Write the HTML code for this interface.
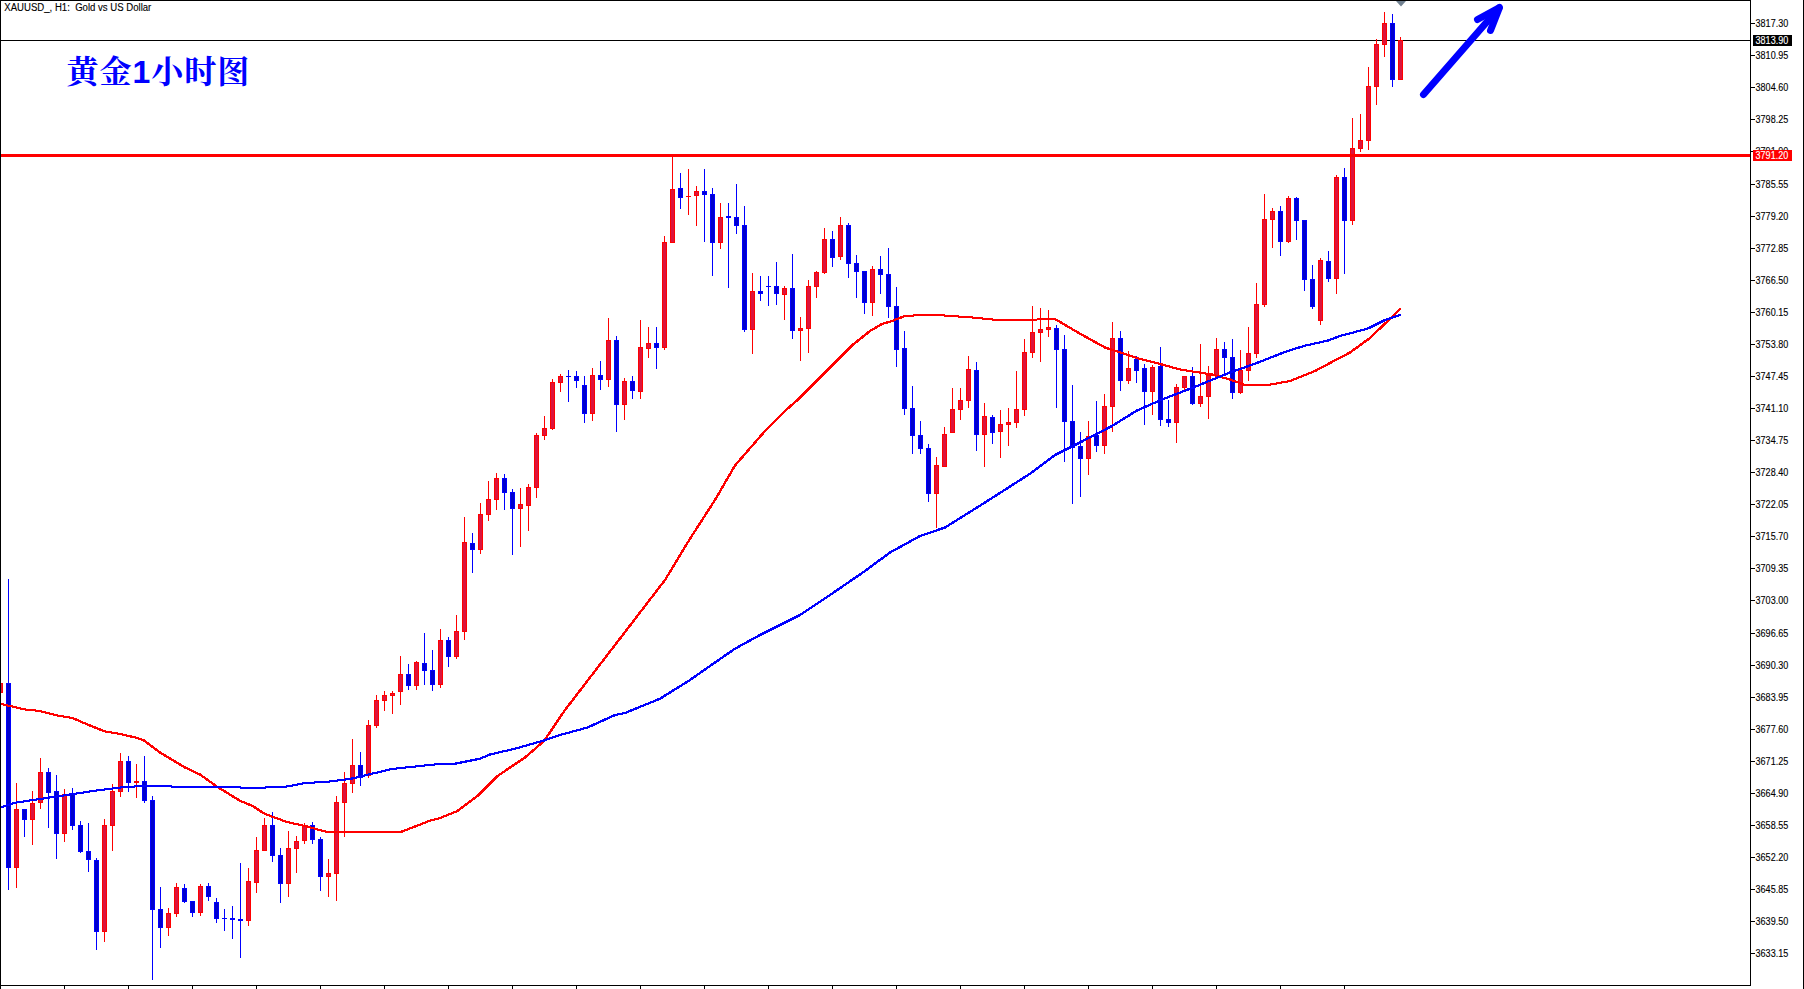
<!DOCTYPE html>
<html lang="zh"><head><meta charset="utf-8"><title>XAUUSD H1</title>
<style>html,body{margin:0;padding:0;background:#fff;overflow:hidden}svg{display:block}.ax{font-family:"Liberation Sans",sans-serif;font-size:10px;fill:#000;stroke:#000;stroke-width:0.12px}.ti{font-family:"Liberation Sans","Noto Serif CJK SC",serif;font-weight:700;font-size:32px;letter-spacing:1px;fill:#0000ff}</style></head><body>
<svg width="1804" height="989" viewBox="0 0 1804 989">
<rect x="0" y="0" width="1804" height="989" fill="#fff"/>
<g shape-rendering="crispEdges">
<rect x="0" y="40" width="1750" height="1" fill="#000"/>
<path fill="#ff0000" d="M0 683h1v10h-1zM16 783h1v105h-1zM32 791h1v54h-1zM40 758h1v51h-1zM64 789h1v53h-1zM104 819h1v123h-1zM112 784h1v67h-1zM120 753h1v44h-1zM136 764h1v34h-1zM168 908h1v28h-1zM176 883h1v34h-1zM200 884h1v32h-1zM248 868h1v58h-1zM256 837h1v56h-1zM264 818h1v33h-1zM288 831h1v66h-1zM296 836h1v37h-1zM304 823h1v21h-1zM328 859h1v38h-1zM336 796h1v105h-1zM344 772h1v65h-1zM352 739h1v54h-1zM368 720h1v58h-1zM376 695h1v33h-1zM384 691h1v20h-1zM392 691h1v23h-1zM400 656h1v49h-1zM416 661h1v29h-1zM440 629h1v59h-1zM456 615h1v44h-1zM464 517h1v123h-1zM480 503h1v51h-1zM488 481h1v40h-1zM496 473h1v37h-1zM520 488h1v59h-1zM528 484h1v47h-1zM536 433h1v65h-1zM544 416h1v24h-1zM552 379h1v51h-1zM560 374h1v18h-1zM592 368h1v53h-1zM608 318h1v69h-1zM624 378h1v42h-1zM640 320h1v79h-1zM648 327h1v31h-1zM664 236h1v114h-1zM672 157h1v86h-1zM688 169h1v46h-1zM696 186h1v40h-1zM720 203h1v46h-1zM752 273h1v81h-1zM784 286h1v34h-1zM800 317h1v44h-1zM808 280h1v73h-1zM816 271h1v27h-1zM824 228h1v46h-1zM840 217h1v43h-1zM872 266h1v50h-1zM936 457h1v71h-1zM944 427h1v40h-1zM952 388h1v45h-1zM960 388h1v32h-1zM968 356h1v52h-1zM984 403h1v64h-1zM1000 410h1v48h-1zM1008 408h1v38h-1zM1016 371h1v57h-1zM1024 339h1v77h-1zM1032 306h1v52h-1zM1040 308h1v54h-1zM1048 310h1v27h-1zM1088 421h1v54h-1zM1104 394h1v60h-1zM1112 322h1v110h-1zM1128 351h1v33h-1zM1152 365h1v50h-1zM1176 384h1v59h-1zM1184 376h1v14h-1zM1200 344h1v63h-1zM1208 366h1v53h-1zM1216 338h1v38h-1zM1240 350h1v44h-1zM1248 327h1v54h-1zM1256 283h1v75h-1zM1264 194h1v113h-1zM1272 208h1v40h-1zM1288 196h1v47h-1zM1320 258h1v67h-1zM1336 175h1v119h-1zM1352 118h1v107h-1zM1360 114h1v38h-1zM1368 67h1v83h-1zM1376 39h1v66h-1zM1384 12h1v45h-1zM1400 37h1v43h-1zM-2 683h5v10h-5zM14 809h5v59h-5zM30 803h5v17h-5zM38 772h5v31h-5zM62 794h5v40h-5zM102 825h5v107h-5zM110 791h5v35h-5zM118 761h5v31h-5zM134 781h5v2h-5zM166 913h5v15h-5zM174 887h5v27h-5zM198 886h5v27h-5zM246 881h5v40h-5zM254 850h5v33h-5zM262 825h5v26h-5zM286 848h5v36h-5zM294 841h5v8h-5zM302 826h5v15h-5zM326 873h5v4h-5zM334 802h5v72h-5zM342 783h5v20h-5zM350 765h5v19h-5zM366 725h5v51h-5zM374 700h5v26h-5zM382 695h5v6h-5zM390 693h5v3h-5zM398 674h5v18h-5zM414 662h5v24h-5zM438 640h5v45h-5zM454 631h5v26h-5zM462 542h5v90h-5zM478 514h5v36h-5zM486 499h5v16h-5zM494 478h5v22h-5zM518 504h5v5h-5zM526 487h5v19h-5zM534 435h5v53h-5zM542 428h5v8h-5zM550 382h5v47h-5zM558 376h5v7h-5zM590 375h5v39h-5zM606 340h5v40h-5zM622 381h5v24h-5zM638 347h5v45h-5zM646 343h5v6h-5zM662 242h5v106h-5zM670 189h5v54h-5zM686 196h5v1h-5zM694 191h5v5h-5zM718 217h5v26h-5zM750 291h5v39h-5zM782 288h5v7h-5zM798 328h5v3h-5zM806 286h5v43h-5zM814 272h5v15h-5zM822 239h5v34h-5zM838 225h5v32h-5zM870 269h5v34h-5zM934 465h5v29h-5zM942 434h5v33h-5zM950 409h5v24h-5zM958 400h5v10h-5zM966 369h5v32h-5zM982 416h5v19h-5zM998 424h5v8h-5zM1006 422h5v3h-5zM1014 409h5v14h-5zM1022 352h5v58h-5zM1030 332h5v21h-5zM1038 329h5v4h-5zM1046 327h5v3h-5zM1086 436h5v23h-5zM1102 406h5v40h-5zM1110 338h5v69h-5zM1126 368h5v13h-5zM1150 367h5v25h-5zM1174 387h5v36h-5zM1182 376h5v12h-5zM1198 396h5v8h-5zM1206 375h5v22h-5zM1214 349h5v27h-5zM1238 370h5v23h-5zM1246 353h5v18h-5zM1254 304h5v50h-5zM1262 219h5v86h-5zM1270 211h5v9h-5zM1286 198h5v44h-5zM1318 260h5v61h-5zM1334 177h5v102h-5zM1350 148h5v73h-5zM1358 140h5v9h-5zM1366 86h5v55h-5zM1374 44h5v43h-5zM1382 23h5v22h-5zM1398 40h5v40h-5z"/>
<path fill="#dc143c" d="M-1 684h3v8h-3zM15 810h3v57h-3zM31 804h3v15h-3zM39 773h3v29h-3zM63 795h3v38h-3zM103 826h3v105h-3zM111 792h3v33h-3zM119 762h3v29h-3zM167 914h3v13h-3zM175 888h3v25h-3zM199 887h3v25h-3zM247 882h3v38h-3zM255 851h3v31h-3zM263 826h3v24h-3zM287 849h3v34h-3zM295 842h3v6h-3zM303 827h3v13h-3zM327 874h3v2h-3zM335 803h3v70h-3zM343 784h3v18h-3zM351 766h3v17h-3zM367 726h3v49h-3zM375 701h3v24h-3zM383 696h3v4h-3zM391 694h3v1h-3zM399 675h3v16h-3zM415 663h3v22h-3zM439 641h3v43h-3zM455 632h3v24h-3zM463 543h3v88h-3zM479 515h3v34h-3zM487 500h3v14h-3zM495 479h3v20h-3zM519 505h3v3h-3zM527 488h3v17h-3zM535 436h3v51h-3zM543 429h3v6h-3zM551 383h3v45h-3zM559 377h3v5h-3zM591 376h3v37h-3zM607 341h3v38h-3zM623 382h3v22h-3zM639 348h3v43h-3zM647 344h3v4h-3zM663 243h3v104h-3zM671 190h3v52h-3zM695 192h3v3h-3zM719 218h3v24h-3zM751 292h3v37h-3zM783 289h3v5h-3zM799 329h3v1h-3zM807 287h3v41h-3zM815 273h3v13h-3zM823 240h3v32h-3zM839 226h3v30h-3zM871 270h3v32h-3zM935 466h3v27h-3zM943 435h3v31h-3zM951 410h3v22h-3zM959 401h3v8h-3zM967 370h3v30h-3zM983 417h3v17h-3zM999 425h3v6h-3zM1007 423h3v1h-3zM1015 410h3v12h-3zM1023 353h3v56h-3zM1031 333h3v19h-3zM1039 330h3v2h-3zM1047 328h3v1h-3zM1087 437h3v21h-3zM1103 407h3v38h-3zM1111 339h3v67h-3zM1127 369h3v11h-3zM1151 368h3v23h-3zM1175 388h3v34h-3zM1183 377h3v10h-3zM1199 397h3v6h-3zM1207 376h3v20h-3zM1215 350h3v25h-3zM1239 371h3v21h-3zM1247 354h3v16h-3zM1255 305h3v48h-3zM1263 220h3v84h-3zM1271 212h3v7h-3zM1287 199h3v42h-3zM1319 261h3v59h-3zM1335 178h3v100h-3zM1351 149h3v71h-3zM1359 141h3v7h-3zM1367 87h3v53h-3zM1375 45h3v41h-3zM1383 24h3v20h-3zM1399 41h3v38h-3z"/>
<path fill="#0000ff" d="M8 579h1v311h-1zM24 809h1v28h-1zM48 768h1v60h-1zM56 775h1v84h-1zM72 788h1v42h-1zM80 821h1v32h-1zM88 823h1v49h-1zM96 858h1v92h-1zM128 756h1v36h-1zM144 756h1v47h-1zM152 796h1v184h-1zM160 887h1v61h-1zM184 884h1v19h-1zM192 901h1v16h-1zM208 883h1v18h-1zM216 898h1v25h-1zM224 909h1v22h-1zM232 906h1v33h-1zM240 863h1v95h-1zM272 812h1v50h-1zM280 848h1v55h-1zM312 822h1v22h-1zM320 837h1v54h-1zM360 752h1v34h-1zM408 664h1v26h-1zM424 633h1v52h-1zM432 650h1v41h-1zM448 637h1v30h-1zM472 533h1v40h-1zM504 474h1v36h-1zM512 489h1v66h-1zM568 370h1v32h-1zM576 371h1v17h-1zM584 376h1v47h-1zM600 361h1v29h-1zM616 336h1v96h-1zM632 376h1v23h-1zM656 327h1v42h-1zM680 173h1v36h-1zM704 169h1v73h-1zM712 188h1v88h-1zM728 203h1v85h-1zM736 184h1v50h-1zM744 206h1v126h-1zM760 276h1v25h-1zM768 276h1v30h-1zM776 262h1v43h-1zM792 254h1v85h-1zM832 231h1v36h-1zM848 223h1v55h-1zM856 255h1v43h-1zM864 271h1v43h-1zM880 256h1v38h-1zM888 248h1v70h-1zM896 287h1v80h-1zM904 331h1v84h-1zM912 386h1v68h-1zM920 421h1v33h-1zM928 444h1v58h-1zM976 362h1v89h-1zM992 415h1v29h-1zM1056 325h1v83h-1zM1064 335h1v127h-1zM1072 385h1v119h-1zM1080 432h1v65h-1zM1096 401h1v51h-1zM1120 331h1v60h-1zM1136 356h1v27h-1zM1144 364h1v61h-1zM1160 347h1v79h-1zM1168 400h1v27h-1zM1192 367h1v38h-1zM1224 342h1v33h-1zM1232 339h1v60h-1zM1280 206h1v50h-1zM1296 197h1v43h-1zM1304 220h1v71h-1zM1312 265h1v44h-1zM1328 251h1v31h-1zM1344 168h1v106h-1zM1392 14h1v73h-1zM6 683h5v185h-5zM22 809h5v11h-5zM46 772h5v21h-5zM54 791h5v43h-5zM70 793h5v33h-5zM78 825h5v27h-5zM86 851h5v9h-5zM94 860h5v72h-5zM126 761h5v22h-5zM142 781h5v20h-5zM150 800h5v110h-5zM158 909h5v19h-5zM182 888h5v14h-5zM190 901h5v12h-5zM206 886h5v11h-5zM214 902h5v17h-5zM222 918h5v1h-5zM230 918h5v2h-5zM238 919h5v2h-5zM270 825h5v31h-5zM278 855h5v29h-5zM310 825h5v15h-5zM318 839h5v38h-5zM358 765h5v13h-5zM406 674h5v12h-5zM422 663h5v8h-5zM430 670h5v15h-5zM446 640h5v17h-5zM470 543h5v7h-5zM502 478h5v15h-5zM510 492h5v17h-5zM566 376h5v1h-5zM574 376h5v5h-5zM582 385h5v29h-5zM598 375h5v5h-5zM614 340h5v65h-5zM630 381h5v10h-5zM654 343h5v5h-5zM678 188h5v10h-5zM702 191h5v4h-5zM710 194h5v49h-5zM726 216h5v2h-5zM734 217h5v9h-5zM742 225h5v105h-5zM758 291h5v3h-5zM766 286h5v1h-5zM774 286h5v8h-5zM790 288h5v43h-5zM830 239h5v19h-5zM846 225h5v39h-5zM854 263h5v9h-5zM862 271h5v32h-5zM878 269h5v6h-5zM886 274h5v33h-5zM894 306h5v44h-5zM902 348h5v61h-5zM910 408h5v28h-5zM918 435h5v14h-5zM926 448h5v46h-5zM974 370h5v65h-5zM990 417h5v16h-5zM1054 328h5v22h-5zM1062 349h5v73h-5zM1070 421h5v27h-5zM1078 446h5v13h-5zM1094 435h5v11h-5zM1118 338h5v43h-5zM1134 359h5v12h-5zM1142 368h5v24h-5zM1158 366h5v54h-5zM1166 419h5v4h-5zM1190 376h5v28h-5zM1222 349h5v9h-5zM1230 357h5v36h-5zM1278 211h5v31h-5zM1294 198h5v23h-5zM1302 220h5v60h-5zM1310 279h5v28h-5zM1326 261h5v18h-5zM1342 177h5v44h-5zM1390 23h5v57h-5z"/>
<path fill="#0000cd" d="M7 684h3v183h-3zM23 810h3v9h-3zM47 773h3v19h-3zM55 792h3v41h-3zM71 794h3v31h-3zM79 826h3v25h-3zM87 852h3v7h-3zM95 861h3v70h-3zM127 762h3v20h-3zM143 782h3v18h-3zM151 801h3v108h-3zM159 910h3v17h-3zM183 889h3v12h-3zM191 902h3v10h-3zM207 887h3v9h-3zM215 903h3v15h-3zM271 826h3v29h-3zM279 856h3v27h-3zM311 826h3v13h-3zM319 840h3v36h-3zM359 766h3v11h-3zM407 675h3v10h-3zM423 664h3v6h-3zM431 671h3v13h-3zM447 641h3v15h-3zM471 544h3v5h-3zM503 479h3v13h-3zM511 493h3v15h-3zM575 377h3v3h-3zM583 386h3v27h-3zM599 376h3v3h-3zM615 341h3v63h-3zM631 382h3v8h-3zM655 344h3v3h-3zM679 189h3v8h-3zM703 192h3v2h-3zM711 195h3v47h-3zM735 218h3v7h-3zM743 226h3v103h-3zM759 292h3v1h-3zM775 287h3v6h-3zM791 289h3v41h-3zM831 240h3v17h-3zM847 226h3v37h-3zM855 264h3v7h-3zM863 272h3v30h-3zM879 270h3v4h-3zM887 275h3v31h-3zM895 307h3v42h-3zM903 349h3v59h-3zM911 409h3v26h-3zM919 436h3v12h-3zM927 449h3v44h-3zM975 371h3v63h-3zM991 418h3v14h-3zM1055 329h3v20h-3zM1063 350h3v71h-3zM1071 422h3v25h-3zM1079 447h3v11h-3zM1095 436h3v9h-3zM1119 339h3v41h-3zM1135 360h3v10h-3zM1143 369h3v22h-3zM1159 367h3v52h-3zM1167 420h3v2h-3zM1191 377h3v26h-3zM1223 350h3v7h-3zM1231 358h3v34h-3zM1279 212h3v29h-3zM1295 199h3v21h-3zM1303 221h3v58h-3zM1311 280h3v26h-3zM1327 262h3v16h-3zM1343 178h3v42h-3zM1391 24h3v55h-3z"/>
<rect x="0" y="154" width="1750" height="3" fill="#ff0000"/>
<polyline points="-0.5,703.2 9.5,705.5 24.5,709 39.5,710.5 57,715 72,717.5 87,724 104.5,731 119.5,733.5 137,737.5 143.5,740 159.5,752 184.5,767 199.5,774 217,786.5 239.5,800.2 252,805.5 264.5,813.5 286.5,821.5 306.5,826 324.5,831 401.5,831 429.5,820.2 439.5,817.5 457,810.5 477,795.5 497,775.5 524.5,757 543.5,740.5 564.5,709.5 589.5,677 614.5,644.5 639.5,612 664.5,579.5 689.5,538.2 714.5,499.5 734.5,465 764.5,430.5 787,408.2 797,399.5 827,369.5 852,344.5 869.5,330.5 882,323.2 889.5,321.2 904.5,315.5 929.5,314 971.5,317 1001.5,320 1054.5,318.5 1079.5,333.2 1104.5,347 1136.5,357.5 1161.5,364 1179.5,369 1211.5,374 1229.5,379 1244.5,384.5 1264.5,385 1289.5,380.5 1314.5,370.5 1329.5,362.5 1349.5,352 1368.5,338.2 1384.5,323.2 1400,308.2" fill="none" stroke="#ff0000" stroke-width="1" stroke-linejoin="round"/><polyline points="0.5,703.2 10.5,705.5 25.5,709 40.5,710.5 58,715 73,717.5 88,724 105.5,731 120.5,733.5 138,737.5 144.5,740 160.5,752 185.5,767 200.5,774 218,786.5 240.5,800.2 253,805.5 265.5,813.5 287.5,821.5 307.5,826 325.5,831 402.5,831 430.5,820.2 440.5,817.5 458,810.5 478,795.5 498,775.5 525.5,757 544.5,740.5 565.5,709.5 590.5,677 615.5,644.5 640.5,612 665.5,579.5 690.5,538.2 715.5,499.5 735.5,465 765.5,430.5 788,408.2 798,399.5 828,369.5 853,344.5 870.5,330.5 883,323.2 890.5,321.2 905.5,315.5 930.5,314 972.5,317 1002.5,320 1055.5,318.5 1080.5,333.2 1105.5,347 1137.5,357.5 1162.5,364 1180.5,369 1212.5,374 1230.5,379 1245.5,384.5 1265.5,385 1290.5,380.5 1315.5,370.5 1330.5,362.5 1350.5,352 1369.5,338.2 1385.5,323.2 1401,308.2" fill="none" stroke="#ff0000" stroke-width="1" stroke-linejoin="round"/><polyline points="-0.5,704.2 9.5,706.5 24.5,710 39.5,711.5 57,716 72,718.5 87,725 104.5,732 119.5,734.5 137,738.5 143.5,741 159.5,753 184.5,768 199.5,775 217,787.5 239.5,801.2 252,806.5 264.5,814.5 286.5,822.5 306.5,827 324.5,832 401.5,832 429.5,821.2 439.5,818.5 457,811.5 477,796.5 497,776.5 524.5,758 543.5,741.5 564.5,710.5 589.5,678 614.5,645.5 639.5,613 664.5,580.5 689.5,539.2 714.5,500.5 734.5,466 764.5,431.5 787,409.2 797,400.5 827,370.5 852,345.5 869.5,331.5 882,324.2 889.5,322.2 904.5,316.5 929.5,315 971.5,318 1001.5,321 1054.5,319.5 1079.5,334.2 1104.5,348 1136.5,358.5 1161.5,365 1179.5,370 1211.5,375 1229.5,380 1244.5,385.5 1264.5,386 1289.5,381.5 1314.5,371.5 1329.5,363.5 1349.5,353 1368.5,339.2 1384.5,324.2 1400,309.2" fill="none" stroke="#ff0000" stroke-width="1" stroke-linejoin="round"/><polyline points="0.5,704.2 10.5,706.5 25.5,710 40.5,711.5 58,716 73,718.5 88,725 105.5,732 120.5,734.5 138,738.5 144.5,741 160.5,753 185.5,768 200.5,775 218,787.5 240.5,801.2 253,806.5 265.5,814.5 287.5,822.5 307.5,827 325.5,832 402.5,832 430.5,821.2 440.5,818.5 458,811.5 478,796.5 498,776.5 525.5,758 544.5,741.5 565.5,710.5 590.5,678 615.5,645.5 640.5,613 665.5,580.5 690.5,539.2 715.5,500.5 735.5,466 765.5,431.5 788,409.2 798,400.5 828,370.5 853,345.5 870.5,331.5 883,324.2 890.5,322.2 905.5,316.5 930.5,315 972.5,318 1002.5,321 1055.5,319.5 1080.5,334.2 1105.5,348 1137.5,358.5 1162.5,365 1180.5,370 1212.5,375 1230.5,380 1245.5,385.5 1265.5,386 1290.5,381.5 1315.5,371.5 1330.5,363.5 1350.5,353 1369.5,339.2 1385.5,324.2 1401,309.2" fill="none" stroke="#ff0000" stroke-width="1" stroke-linejoin="round"/>
<polyline points="-0.5,807 14.5,802.2 49.5,797 99.5,789.5 124.5,786.5 149.5,785.2 184.5,786.5 261.5,787.2 286.5,786 304.5,782.5 324.5,781.5 349.5,778.5 374.5,772.5 391.5,768.5 419.5,765.5 439.5,763.5 454.5,763.2 479.5,758.2 489.5,754 514.5,748.2 543.5,740 559.5,734.5 587,727 614.5,714.5 624.5,712.5 659.5,698.2 689.5,679.5 714.5,662 734.5,648.2 759.5,634.5 799.5,614.5 829.5,594.5 864.5,570.5 889.5,552 919.5,535.5 944.5,527 984.5,502 1029.5,473.2 1054.5,454.5 1079.5,442 1111.5,425.5 1136.5,410 1161.5,399 1191.5,387.5 1229.5,372 1254.5,363.2 1287,350.5 1304.5,345.2 1327,340.2 1339.5,335.5 1367,328.2 1384.5,319.5 1400,314.5" fill="none" stroke="#0000ff" stroke-width="1" stroke-linejoin="round"/><polyline points="0.5,807 15.5,802.2 50.5,797 100.5,789.5 125.5,786.5 150.5,785.2 185.5,786.5 262.5,787.2 287.5,786 305.5,782.5 325.5,781.5 350.5,778.5 375.5,772.5 392.5,768.5 420.5,765.5 440.5,763.5 455.5,763.2 480.5,758.2 490.5,754 515.5,748.2 544.5,740 560.5,734.5 588,727 615.5,714.5 625.5,712.5 660.5,698.2 690.5,679.5 715.5,662 735.5,648.2 760.5,634.5 800.5,614.5 830.5,594.5 865.5,570.5 890.5,552 920.5,535.5 945.5,527 985.5,502 1030.5,473.2 1055.5,454.5 1080.5,442 1112.5,425.5 1137.5,410 1162.5,399 1192.5,387.5 1230.5,372 1255.5,363.2 1288,350.5 1305.5,345.2 1328,340.2 1340.5,335.5 1368,328.2 1385.5,319.5 1401,314.5" fill="none" stroke="#0000ff" stroke-width="1" stroke-linejoin="round"/><polyline points="-0.5,808 14.5,803.2 49.5,798 99.5,790.5 124.5,787.5 149.5,786.2 184.5,787.5 261.5,788.2 286.5,787 304.5,783.5 324.5,782.5 349.5,779.5 374.5,773.5 391.5,769.5 419.5,766.5 439.5,764.5 454.5,764.2 479.5,759.2 489.5,755 514.5,749.2 543.5,741 559.5,735.5 587,728 614.5,715.5 624.5,713.5 659.5,699.2 689.5,680.5 714.5,663 734.5,649.2 759.5,635.5 799.5,615.5 829.5,595.5 864.5,571.5 889.5,553 919.5,536.5 944.5,528 984.5,503 1029.5,474.2 1054.5,455.5 1079.5,443 1111.5,426.5 1136.5,411 1161.5,400 1191.5,388.5 1229.5,373 1254.5,364.2 1287,351.5 1304.5,346.2 1327,341.2 1339.5,336.5 1367,329.2 1384.5,320.5 1400,315.5" fill="none" stroke="#0000ff" stroke-width="1" stroke-linejoin="round"/><polyline points="0.5,808 15.5,803.2 50.5,798 100.5,790.5 125.5,787.5 150.5,786.2 185.5,787.5 262.5,788.2 287.5,787 305.5,783.5 325.5,782.5 350.5,779.5 375.5,773.5 392.5,769.5 420.5,766.5 440.5,764.5 455.5,764.2 480.5,759.2 490.5,755 515.5,749.2 544.5,741 560.5,735.5 588,728 615.5,715.5 625.5,713.5 660.5,699.2 690.5,680.5 715.5,663 735.5,649.2 760.5,635.5 800.5,615.5 830.5,595.5 865.5,571.5 890.5,553 920.5,536.5 945.5,528 985.5,503 1030.5,474.2 1055.5,455.5 1080.5,443 1112.5,426.5 1137.5,411 1162.5,400 1192.5,388.5 1230.5,373 1255.5,364.2 1288,351.5 1305.5,346.2 1328,341.2 1340.5,336.5 1368,329.2 1385.5,320.5 1401,315.5" fill="none" stroke="#0000ff" stroke-width="1" stroke-linejoin="round"/>
<rect x="0" y="0" width="1751" height="1" fill="#000"/>
<rect x="0" y="0" width="1" height="989" fill="#000"/>
<rect x="1750" y="0" width="1" height="986" fill="#000"/>
<rect x="0" y="985" width="1751" height="1" fill="#000"/>
<rect x="1803" y="0" width="1" height="989" fill="#000"/>
<path fill="#000" d="M64 986h1v3h-1zM128 986h1v3h-1zM192 986h1v3h-1zM256 986h1v3h-1zM320 986h1v3h-1zM384 986h1v3h-1zM448 986h1v3h-1zM512 986h1v3h-1zM576 986h1v3h-1zM640 986h1v3h-1zM704 986h1v3h-1zM768 986h1v3h-1zM832 986h1v3h-1zM896 986h1v3h-1zM960 986h1v3h-1zM1024 986h1v3h-1zM1088 986h1v3h-1zM1152 986h1v3h-1zM1216 986h1v3h-1zM1280 986h1v3h-1zM1344 986h1v3h-1z"/>
<path fill="#000" d="M1751 23h4v1h-4zM1751 55h4v1h-4zM1751 87h4v1h-4zM1751 119h4v1h-4zM1751 151h4v1h-4zM1751 184h4v1h-4zM1751 216h4v1h-4zM1751 248h4v1h-4zM1751 280h4v1h-4zM1751 312h4v1h-4zM1751 344h4v1h-4zM1751 376h4v1h-4zM1751 408h4v1h-4zM1751 440h4v1h-4zM1751 472h4v1h-4zM1751 504h4v1h-4zM1751 536h4v1h-4zM1751 568h4v1h-4zM1751 600h4v1h-4zM1751 633h4v1h-4zM1751 665h4v1h-4zM1751 697h4v1h-4zM1751 729h4v1h-4zM1751 761h4v1h-4zM1751 793h4v1h-4zM1751 825h4v1h-4zM1751 857h4v1h-4zM1751 889h4v1h-4zM1751 921h4v1h-4zM1751 953h4v1h-4z"/>
<rect x="1753" y="150" width="39" height="11" fill="#ff0000"/>
<rect x="1753" y="35" width="39" height="11" fill="#000"/>
</g>
<path d="M1396 1h10l-5 5.5z" fill="#708090"/>
<g stroke="#0000ff" stroke-width="7" stroke-linecap="round" stroke-linejoin="round" fill="#0000ff"><path d="M1423.5 94.5L1499 8"/><path d="M1477.5 19.5L1499.5 7.5L1490.5 30.5" fill="none"/></g>
<text class="ax" x="1755.6" y="27.4" textLength="32.6" lengthAdjust="spacingAndGlyphs">3817.30</text>
<text class="ax" x="1755.6" y="59.4" textLength="32.6" lengthAdjust="spacingAndGlyphs">3810.95</text>
<text class="ax" x="1755.6" y="91.4" textLength="32.6" lengthAdjust="spacingAndGlyphs">3804.60</text>
<text class="ax" x="1755.6" y="123.4" textLength="32.6" lengthAdjust="spacingAndGlyphs">3798.25</text>
<text class="ax" x="1755.6" y="155.4" textLength="32.6" lengthAdjust="spacingAndGlyphs">3791.90</text>
<text class="ax" x="1755.6" y="188.4" textLength="32.6" lengthAdjust="spacingAndGlyphs">3785.55</text>
<text class="ax" x="1755.6" y="220.4" textLength="32.6" lengthAdjust="spacingAndGlyphs">3779.20</text>
<text class="ax" x="1755.6" y="252.4" textLength="32.6" lengthAdjust="spacingAndGlyphs">3772.85</text>
<text class="ax" x="1755.6" y="284.4" textLength="32.6" lengthAdjust="spacingAndGlyphs">3766.50</text>
<text class="ax" x="1755.6" y="316.4" textLength="32.6" lengthAdjust="spacingAndGlyphs">3760.15</text>
<text class="ax" x="1755.6" y="348.4" textLength="32.6" lengthAdjust="spacingAndGlyphs">3753.80</text>
<text class="ax" x="1755.6" y="380.4" textLength="32.6" lengthAdjust="spacingAndGlyphs">3747.45</text>
<text class="ax" x="1755.6" y="412.4" textLength="32.6" lengthAdjust="spacingAndGlyphs">3741.10</text>
<text class="ax" x="1755.6" y="444.4" textLength="32.6" lengthAdjust="spacingAndGlyphs">3734.75</text>
<text class="ax" x="1755.6" y="476.4" textLength="32.6" lengthAdjust="spacingAndGlyphs">3728.40</text>
<text class="ax" x="1755.6" y="508.4" textLength="32.6" lengthAdjust="spacingAndGlyphs">3722.05</text>
<text class="ax" x="1755.6" y="540.4" textLength="32.6" lengthAdjust="spacingAndGlyphs">3715.70</text>
<text class="ax" x="1755.6" y="572.4" textLength="32.6" lengthAdjust="spacingAndGlyphs">3709.35</text>
<text class="ax" x="1755.6" y="604.4" textLength="32.6" lengthAdjust="spacingAndGlyphs">3703.00</text>
<text class="ax" x="1755.6" y="637.4" textLength="32.6" lengthAdjust="spacingAndGlyphs">3696.65</text>
<text class="ax" x="1755.6" y="669.4" textLength="32.6" lengthAdjust="spacingAndGlyphs">3690.30</text>
<text class="ax" x="1755.6" y="701.4" textLength="32.6" lengthAdjust="spacingAndGlyphs">3683.95</text>
<text class="ax" x="1755.6" y="733.4" textLength="32.6" lengthAdjust="spacingAndGlyphs">3677.60</text>
<text class="ax" x="1755.6" y="765.4" textLength="32.6" lengthAdjust="spacingAndGlyphs">3671.25</text>
<text class="ax" x="1755.6" y="797.4" textLength="32.6" lengthAdjust="spacingAndGlyphs">3664.90</text>
<text class="ax" x="1755.6" y="829.4" textLength="32.6" lengthAdjust="spacingAndGlyphs">3658.55</text>
<text class="ax" x="1755.6" y="861.4" textLength="32.6" lengthAdjust="spacingAndGlyphs">3652.20</text>
<text class="ax" x="1755.6" y="893.4" textLength="32.6" lengthAdjust="spacingAndGlyphs">3645.85</text>
<text class="ax" x="1755.6" y="925.4" textLength="32.6" lengthAdjust="spacingAndGlyphs">3639.50</text>
<text class="ax" x="1755.6" y="957.4" textLength="32.6" lengthAdjust="spacingAndGlyphs">3633.15</text>
<rect x="1753" y="150" width="39" height="11" fill="#ff0000" shape-rendering="crispEdges"/>
<text class="ax" x="1755.6" y="159.4" textLength="32.6" lengthAdjust="spacingAndGlyphs" style="fill:#fff;stroke:#fff">3791.20</text>
<text class="ax" x="1755.6" y="44.4" textLength="32.6" lengthAdjust="spacingAndGlyphs" style="fill:#fff;stroke:#fff">3813.90</text>
<text class="ax" x="4.3" y="11" textLength="147" lengthAdjust="spacingAndGlyphs" xml:space="preserve">XAUUSD_, H1:  Gold vs US Dollar</text>
<text class="ti" x="66.5" y="83">黄金1小时图</text>
</svg></body></html>
